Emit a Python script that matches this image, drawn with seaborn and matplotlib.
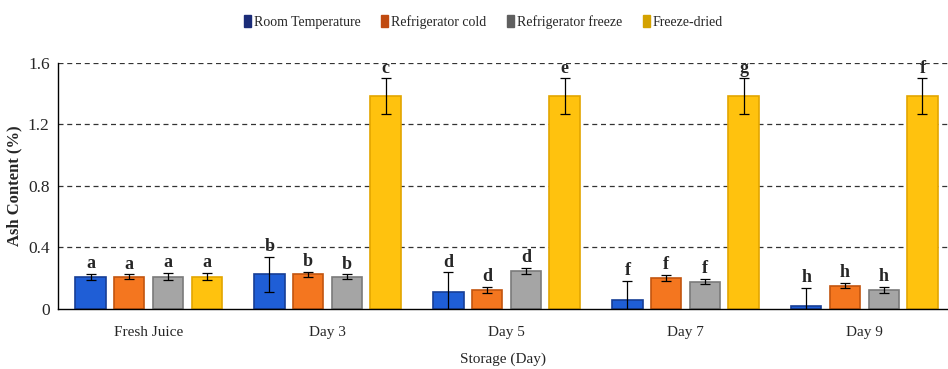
import numpy as np
import pandas as pd
import matplotlib
matplotlib.use("Agg")
import matplotlib.pyplot as plt
from matplotlib.patches import Patch
import seaborn as sns

days = ["Fresh Juice", "Day 3", "Day 5", "Day 7", "Day 9"]
treatments = ["Room Temperature", "Refrigerator cold", "Refrigerator freeze", "Freeze-dried"]

room_temp = [0.21, 0.225, 0.113, 0.058, 0.022]
room_temp_err = [0.02, 0.115, 0.125, 0.125, 0.115]
fridge_cold = [0.21, 0.225, 0.124, 0.200, 0.152]
fridge_cold_err = [0.015, 0.018, 0.022, 0.02, 0.015]
fridge_freeze = [0.21, 0.21, 0.247, 0.178, 0.124]
fridge_freeze_err = [0.022, 0.015, 0.02, 0.015, 0.02]
freeze_dried = [0.21, 1.385, 1.385, 1.385, 1.385]
freeze_dried_err = [0.022, 0.115, 0.115, 0.115, 0.115]

letters_room = ["a", "b", "d", "f", "h"]
letters_cold = ["a", "b", "d", "f", "h"]
letters_freeze = ["a", "b", "d", "f", "h"]
letters_dried = ["a", "c", "e", "g", "f"]

y_ticks = [0, 0.4, 0.8, 1.2, 1.6]
y_tick_labels = ["0", "0.4", "0.8", "1.2", "1.6"]

means = [room_temp, fridge_cold, fridge_freeze, freeze_dried]
errs = [room_temp_err, fridge_cold_err, fridge_freeze_err, freeze_dried_err]
letters = [letters_room, letters_cold, letters_freeze, letters_dried]

df = pd.DataFrame({
    "Storage": np.tile(days, len(treatments)),
    "Treatment": np.repeat(treatments, len(days)),
    "Ash": np.concatenate(means),
})

fills = ["#1F5ED6", "#F4761F", "#A5A5A5", "#FFC20E"]
edges = ["#173E96", "#C2550F", "#7A7A7A", "#E3A600"]
legend_cols = ["#1B2C78", "#C04A10", "#5F5F5F", "#D4A200"]

sns.set_theme(style="white")
plt.rcParams["font.family"] = ["Liberation Serif", "DejaVu Serif"]

fig = plt.figure(figsize=(9.48, 3.69), dpi=100)
ax = fig.add_axes([0.0612, 0.1626, 0.9388, 0.6667])

sns.barplot(data=df, x="Storage", y="Ash", hue="Treatment", order=days,
            hue_order=treatments, palette=fills, saturation=1, width=0.865,
            gap=0.22, errorbar=None, ax=ax, legend=False)

for cont, ec, m, e, lab in zip(ax.containers, edges, means, errs, letters):
    xs = []
    for bar in cont:
        bar.set_edgecolor(ec)
        bar.set_linewidth(1.2)
        bar.set_zorder(2)
        xs.append(bar.get_x() + bar.get_width() / 2)
    ax.errorbar(xs, m, yerr=e, fmt="none", ecolor="black", elinewidth=0.9,
                capsize=3.5, capthick=0.9, zorder=3)
    for x, v, er, t in zip(xs, m, e, lab):
        ax.text(x, v + er + 0.012, t, ha="center", va="bottom",
                fontsize=13, fontweight="bold", zorder=4)

ax.set_ylim(0, 1.6)
ax.set_xlim(-0.506, 4.467)
ax.set_yticks(y_ticks)
ax.set_yticklabels(y_tick_labels, fontsize=12.5)
ax.tick_params(axis="both", length=0, pad=6)
ax.tick_params(axis="x", labelsize=11, pad=12)
for y in y_ticks[1:]:
    ax.axhline(y, color="#333333", linestyle=(0, (4, 3)), linewidth=0.9, zorder=1)

for s in ["top", "right"]:
    ax.spines[s].set_visible(False)
ax.spines["left"].set_color("black")
ax.spines["bottom"].set_color("black")
ax.spines["left"].set_linewidth(1.0)
ax.spines["bottom"].set_linewidth(1.0)

ax.set_ylabel("Ash Content (%)", fontsize=12, fontweight="bold", labelpad=4)
ax.set_xlabel("Storage (Day)", fontsize=11, labelpad=10)

handles = [Patch(facecolor=c, edgecolor=c) for c in legend_cols]
fig.legend(handles, treatments, loc="center", bbox_to_anchor=(0.51, 0.94),
           ncol=4, frameon=False, fontsize=10, handlelength=0.5,
           handleheight=0.9, handletextpad=0.2, columnspacing=1.5)

fig.savefig("out.png", dpi=100)
